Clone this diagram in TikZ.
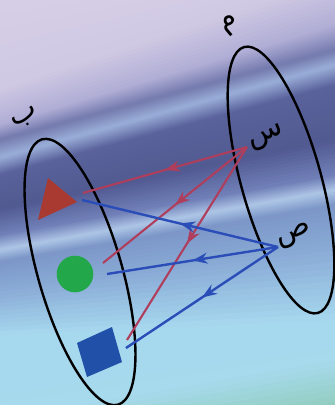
\documentclass[tikz,border=0pt]{standalone}
\usepackage{fontspec}
\newfontfamily\arabicfont[Script=Arabic]{DejaVu Sans}
\TeXXeTstate=1
\usetikzlibrary{arrows.meta,decorations.markings}
\definecolor{bA}{HTML}{DCD3E9}
\definecolor{bB}{HTML}{CFC8E3}
\definecolor{bC}{HTML}{B0AED6}
\definecolor{bD}{HTML}{747AAE}
\definecolor{bE}{HTML}{9AAED8}
\definecolor{bF}{HTML}{5A629C}
\definecolor{bG}{HTML}{525A92}
\definecolor{bH}{HTML}{7080B8}
\definecolor{bI}{HTML}{ADC6E6}
\definecolor{bJ}{HTML}{7C96C8}
\definecolor{bK}{HTML}{8CAED8}
\definecolor{bL}{HTML}{A6D8EE}
\definecolor{bM}{HTML}{A6DAEC}
\definecolor{bN}{HTML}{8CC8B0}
\definecolor{redarr}{HTML}{AE3E5C}
\definecolor{bluearr}{HTML}{2B4DB8}
\definecolor{tricol}{HTML}{A83A32}
\definecolor{circcol}{HTML}{22A84A}
\definecolor{sqcol}{HTML}{2150A8}
\tikzset{
  ell/.style={draw=black, line width=2.4pt},
  midarrow/.style={decoration={markings, mark=at position #1 with {\arrow{Stealth[length=15pt,width=11pt,inset=5pt]}}}, postaction=decorate},
  redline/.style={draw=redarr, line width=2.1pt, midarrow=0.5},
  blueline/.style={draw=bluearr, line width=2.4pt, midarrow=0.5},
  lbl/.style={font=\fontsize{30}{30}\selectfont\arabicfont, inner sep=0pt}
}
\begin{document}
\begin{tikzpicture}[x=1pt,y=-1pt]
\useasboundingbox (0,0) rectangle (335,405);
% background bands: left y / right y / colour
\begin{scope}
\clip (0,0) rectangle (335,405);
\fill[bA] (0,0) rectangle (335,405);
\foreach \la/\ra/\ca/\lb/\rb/\cb in {
  -60/-60/bA/90/-20/bB,
  90/-20/bB/125/25/bC,
  125/25/bC/140/50/bD,
  140/50/bD/158/65/bE,
  158/65/bE/175/85/bF,
  175/85/bF/210/140/bG,
  210/140/bG/235/175/bH,
  235/175/bH/250/190/bI,
  250/190/bI/262/205/bJ,
  262/205/bJ/295/255/bK,
  295/255/bK/335/320/bL,
  335/320/bL/420/360/bM,
  420/360/bM/480/420/bN}{
  \foreach \t in {0,...,9}{
    \pgfmathsetmacro\ya{\la+(\lb-\la)*\t/10}
    \pgfmathsetmacro\yra{\ra+(\rb-\ra)*\t/10}
    \pgfmathsetmacro\yb{\la+(\lb-\la)*(\t+2)/10}
    \pgfmathsetmacro\yrb{\ra+(\rb-\ra)*(\t+2)/10}
    \pgfmathsetmacro\pct{100-10*\t-5}
    \fill[fill={\ca!\pct!\cb}] (-1,\ya) -- (336,\yra) -- (336,\yrb) -- (-1,\yb) -- cycle;
  }
}
\fill[bN] (-1,480) -- (336,420) -- (336,500) -- (-1,500) -- cycle;
\end{scope}
% sets
\draw[ell, rotate around={16:(80,272)}] (80,272) ellipse [x radius=42, y radius=138];
\draw[ell, rotate around={15.5:(281,180)}] (281,180) ellipse [x radius=40, y radius=138];
% elements of B
\fill[tricol] (38,220) -- (48,178) -- (77,202) -- cycle;
\fill[circcol] (75,274) circle [radius=18.3];
\fill[sqcol] (77,343) -- (112,327) -- (122,362) -- (87,377) -- cycle;
% points
\coordinate (s) at (247,147);
\coordinate (p) at (278,247);
\coordinate (t1) at (83,193);
\coordinate (c1) at (103,263);
\coordinate (q1) at (127,340);
\coordinate (t2) at (82,200);
\coordinate (c2) at (107,274);
\coordinate (q2) at (126,348);
\draw[redline] (s) -- (t1);
\draw[redline] (s) -- (c1);
\draw[redline] (s) -- (q1);
\draw[blueline] (p) -- (t2);
\draw[blueline] (p) -- (c2);
\draw[blueline] (p) -- (q2);
% labels
\node[lbl, rotate=40] (lm) at (230,25) {\beginR م\endR};
\node[lbl, rotate=30] (lb) at (26,118) {\beginR ب\endR};
\node[lbl, rotate=22] (ls) at (267,138) {\beginR س\endR};
\node[lbl, rotate=22] (lp) at (295,236) {\beginR ص\endR};
\end{tikzpicture}
\end{document}
